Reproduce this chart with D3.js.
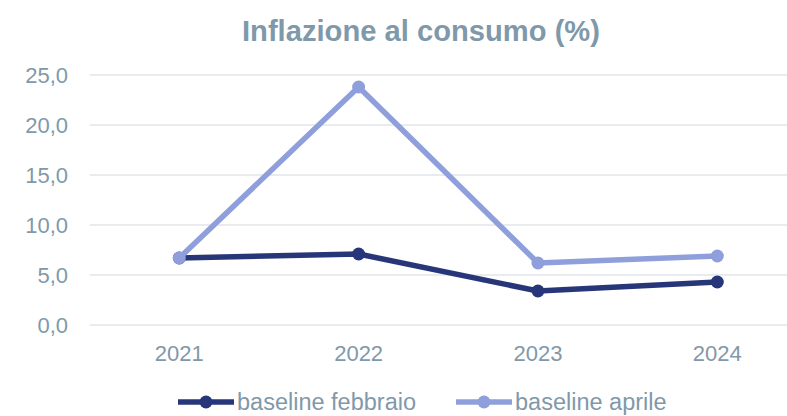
<!DOCTYPE html>
<html>
<head>
<meta charset="utf-8">
<script src="https://cdn.jsdelivr.net/npm/d3@7"></script>
<style>
  html, body { margin: 0; padding: 0; background: #fff; }
  svg { display: block; font-family: "Liberation Sans", Arial, sans-serif; }
</style>
</head>
<body>
<svg id="chart"></svg>
<script>
// dati del grafico
const years = ["2021", "2022", "2023", "2024"];
const seriesNames = ["baseline febbraio", "baseline aprile"];
const febbraio = [6.7, 7.1, 3.4, 4.3];
const aprile = [6.7, 23.8, 6.2, 6.9];
const yTicks = [0, 5, 10, 15, 20, 25];

const width = 787, height = 416;
const labelColor = "#7f99aa";
const colors = ["#273679", "#8f9fdc"];

const svg = d3.select("#chart").attr("width", width).attr("height", height);

const x = d3.scalePoint().domain(years).range([179.3, 717.3]);
const y = d3.scaleLinear().domain([0, 25]).range([325, 75]);

// griglia
svg.append("g")
  .selectAll("line")
  .data(yTicks)
  .enter()
  .append("line")
  .attr("x1", 90)
  .attr("x2", 807)
  .attr("y1", d => y(d))
  .attr("y2", d => y(d))
  .attr("stroke", "#e2e6ea")
  .attr("stroke-width", 1.5);

// etichette asse y
const fmt = d => d3.format(".1f")(d).replace(".", ",");
svg.append("g")
  .selectAll("text")
  .data(yTicks)
  .enter()
  .append("text")
  .attr("x", 68)
  .attr("y", d => y(d))
  .attr("dy", "0.36em")
  .attr("text-anchor", "end")
  .attr("fill", labelColor)
  .style("font-size", "22px")
  .text(fmt);

// etichette asse x
svg.append("g")
  .selectAll("text")
  .data(years)
  .enter()
  .append("text")
  .attr("x", d => x(d))
  .attr("y", 361)
  .attr("text-anchor", "middle")
  .attr("fill", labelColor)
  .style("font-size", "22px")
  .text(d => d);

// titolo
svg.append("text")
  .attr("x", 421)
  .attr("y", 41)
  .attr("text-anchor", "middle")
  .attr("fill", labelColor)
  .style("font-size", "29px")
  .style("font-weight", "bold")
  .attr("textLength", 358)
  .attr("lengthAdjust", "spacingAndGlyphs")
  .text("Inflazione al consumo (%)");

const data = [febbraio, aprile];
const line = d3.line().x((d, i) => x(years[i])).y(d => y(d));

[0, 1].forEach(k => {
  const g = svg.append("g");
  g.append("path")
    .attr("d", line(data[k]))
    .attr("fill", "none")
    .attr("stroke", colors[k])
    .attr("stroke-width", 5.5)
    .attr("stroke-linejoin", "round");
  g.selectAll("circle")
    .data(data[k])
    .enter()
    .append("circle")
    .attr("cx", (d, i) => x(years[i]))
    .attr("cy", d => y(d))
    .attr("r", 6.5)
    .attr("fill", colors[k]);
});

// legenda
const legendX = [178, 456];
seriesNames.forEach((name, k) => {
  const g = svg.append("g").attr("transform", `translate(${legendX[k]},402)`);
  g.append("line")
    .attr("x1", 0).attr("x2", 56)
    .attr("y1", 0).attr("y2", 0)
    .attr("stroke", colors[k])
    .attr("stroke-width", 5.5);
  g.append("circle")
    .attr("cx", 28).attr("cy", 0).attr("r", 6.5)
    .attr("fill", colors[k]);
  g.append("text")
    .attr("x", 59)
    .attr("y", 0)
    .attr("dy", "0.36em")
    .attr("fill", labelColor)
    .style("font-size", "23.5px")
    .text(name);
});
</script>
</body>
</html>
